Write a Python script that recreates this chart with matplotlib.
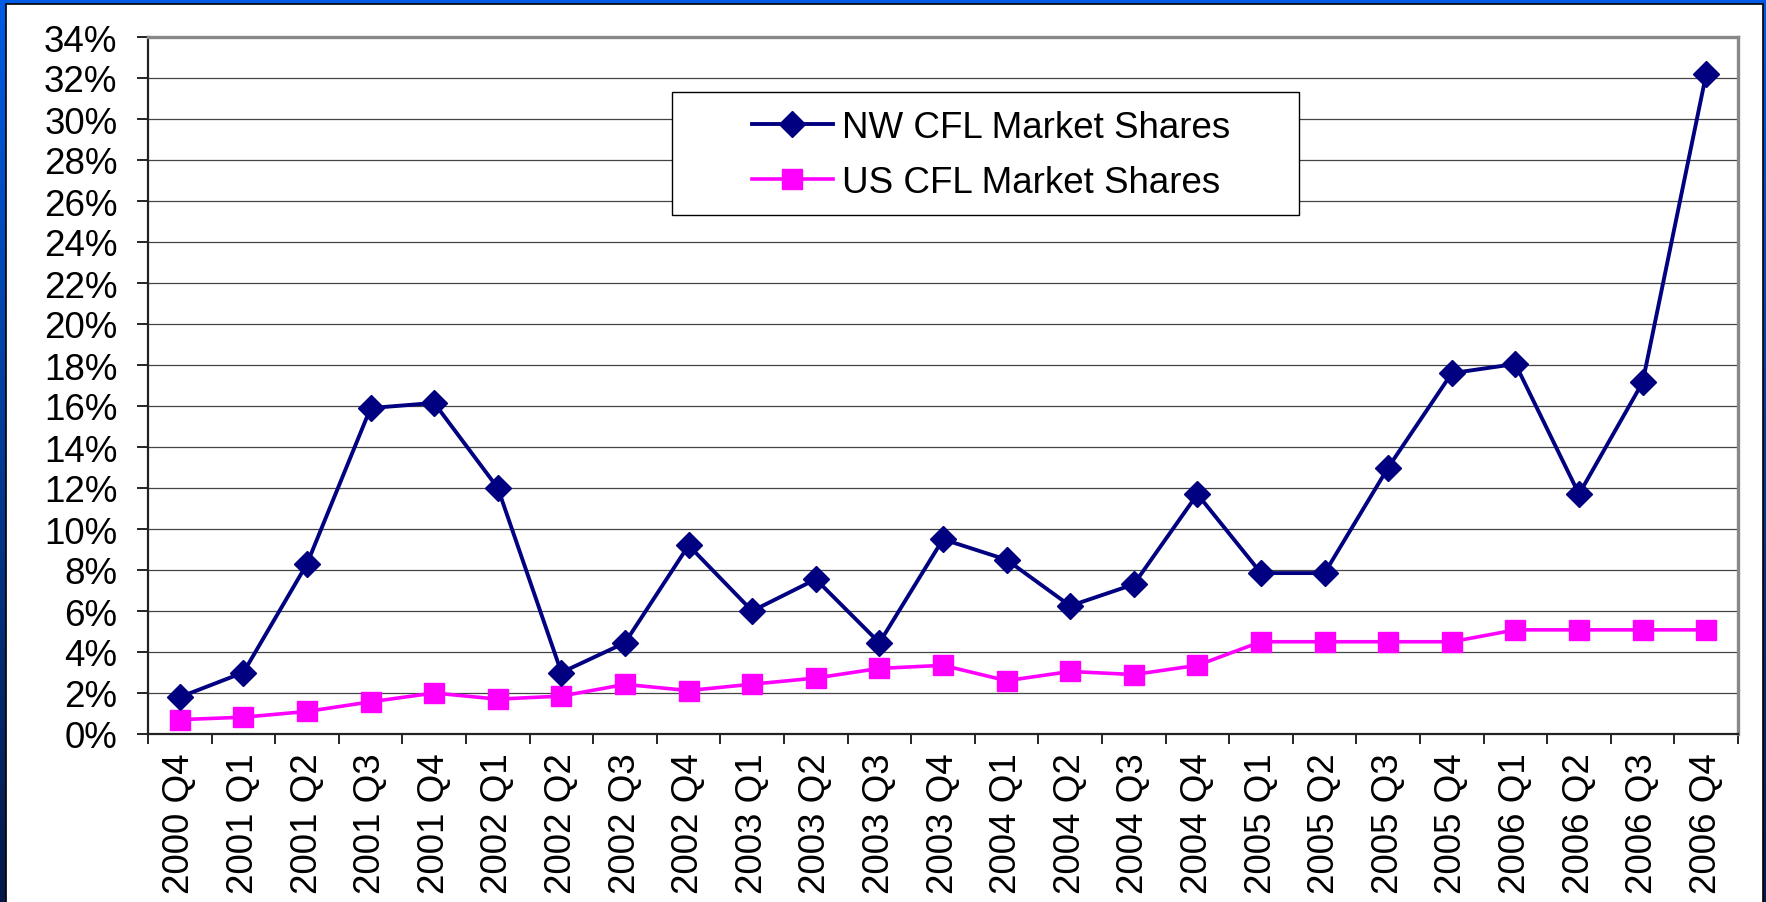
import numpy as np
import matplotlib
matplotlib.use('Agg')
import matplotlib.pyplot as plt
from matplotlib.patches import Rectangle
from matplotlib.ticker import FixedLocator, PercentFormatter

plt.rcParams['font.family'] = ['Liberation Sans', 'DejaVu Sans']

quarters = ['2000 Q4',
            '2001 Q1', '2001 Q2', '2001 Q3', '2001 Q4',
            '2002 Q1', '2002 Q2', '2002 Q3', '2002 Q4',
            '2003 Q1', '2003 Q2', '2003 Q3', '2003 Q4',
            '2004 Q1', '2004 Q2', '2004 Q3', '2004 Q4',
            '2005 Q1', '2005 Q2', '2005 Q3', '2005 Q4',
            '2006 Q1', '2006 Q2', '2006 Q3', '2006 Q4']
nw_share = [1.8, 3.0, 8.3, 15.9, 16.15, 12.0, 3.0, 4.45, 9.2,
            6.0, 7.55, 4.45, 9.5, 8.5, 6.25, 7.3, 11.7,
            7.85, 7.85, 13.0, 17.6, 18.05, 11.7, 17.15, 32.2]
us_share = [0.7, 0.82, 1.1, 1.57, 2.0, 1.7, 1.85, 2.42, 2.12,
            2.43, 2.73, 3.2, 3.35, 2.6, 3.05, 2.9, 3.35,
            4.5, 4.5, 4.5, 4.5, 5.08, 5.08, 5.08, 5.08]
nw_label = 'NW CFL Market Shares'
us_label = 'US CFL Market Shares'

W, H = 1766, 903
fs = 26.5
fig = plt.figure(figsize=(W / 100, H / 100), dpi=100)

# blue slide background with white panel
bg = fig.add_axes([0, 0, 1, 1], zorder=-10)
grad = np.linspace(0, 1, 256).reshape(-1, 1)
top_c = np.array([0.0, 0.36, 0.90])
bot_c = np.array([0.02, 0.10, 0.28])
img = top_c[None, None, :] * (1 - grad[:, :, None]) + bot_c[None, None, :] * grad[:, :, None]
bg.imshow(img, extent=[0, W, H, 0], aspect='auto')
bg.add_patch(Rectangle((6, 5), W - 6 - 3, H, facecolor='white', edgecolor='black', lw=1.2))
bg.set_xlim(0, W)
bg.set_ylim(H, 0)
bg.axis('off')

ax = fig.add_axes([148 / W, 1 - 735 / H, (1738 - 148) / W, (735 - 38) / H])
ax.set_facecolor('none')
x = np.arange(len(quarters))

ax.plot(x, nw_share, color='#000080', lw=2.8, marker='D', ms=13.5,
        markeredgecolor='#000080', label=nw_label, zorder=4)
ax.plot(x, us_share, color='#ff00ff', lw=2.6, marker='s', ms=14,
        markeredgecolor='#ff00ff', label=us_label, zorder=3)

ax.set_xlim(-0.5, len(quarters) - 0.5)
ax.set_ylim(0, 34)
ax.set_yticks(np.arange(0, 35, 2))
ax.yaxis.set_major_formatter(PercentFormatter(decimals=0))
ax.yaxis.grid(True, color='#444444', lw=0.9)
ax.set_axisbelow(True)

ax.xaxis.set_major_locator(FixedLocator(np.arange(-0.5, len(quarters), 1)))
ax.xaxis.set_minor_locator(FixedLocator(x))
ax.set_xticklabels([])
ax.set_xticklabels(quarters, minor=True, rotation=90)
ax.tick_params(axis='x', which='major', length=7, width=1.2, direction='out')
ax.tick_params(axis='x', which='minor', length=0, pad=13, labelsize=fs)
ax.tick_params(axis='y', length=8, width=1.2, direction='out', pad=14, labelsize=fs)

for s in ['left', 'bottom']:
    ax.spines[s].set_color('#222222')
    ax.spines[s].set_linewidth(1.6)
for s in ['top', 'right']:
    ax.spines[s].set_color('#888888')
    ax.spines[s].set_linewidth(2.4)

# legend frame drawn as a box, legend itself frameless
ax.add_patch(Rectangle(((672 - 148) / 1590, (735 - 216) / 697), (1299 - 672) / 1590, (216 - 93) / 697,
                       transform=ax.transAxes, facecolor='white', edgecolor='black', lw=1.0, zorder=5))
leg = ax.legend(loc='upper left', bbox_to_anchor=((752 - 148) / 1590, (735 - 111) / 697),
                frameon=False, borderpad=0, borderaxespad=0, handlelength=2.2,
                handletextpad=0.25, labelspacing=0.55, fontsize=fs)
leg.set_zorder(6)

fig.savefig('out.png', dpi=100)
